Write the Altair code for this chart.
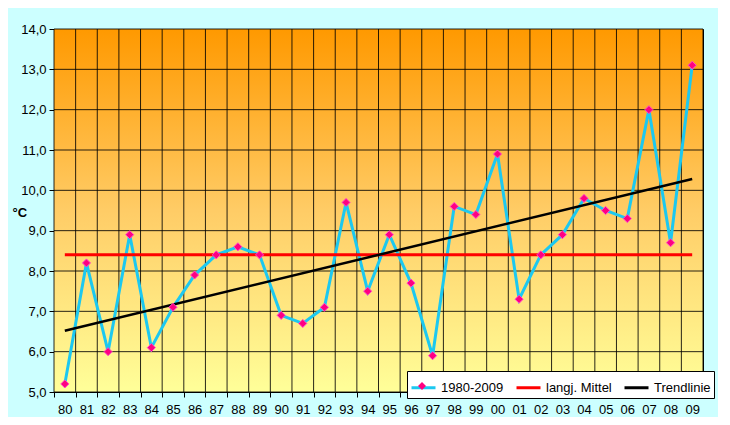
import altair as alt
import pandas as pd

years = ["80","81","82","83","84","85","86","87","88","89",
         "90","91","92","93","94","95","96","97","98","99",
         "00","01","02","03","04","05","06","07","08","09"]
temps = [5.2, 8.2, 6.0, 8.9, 6.1, 7.1, 7.9, 8.4, 8.6, 8.4,
         6.9, 6.7, 7.1, 9.7, 7.5, 8.9, 7.7, 5.9, 9.6, 9.4,
         10.9, 7.3, 8.4, 8.9, 9.8, 9.5, 9.3, 12.0, 8.7, 13.1]
mean_value = 8.4
trend_start = 6.52
trend_end = 10.28
series_names = ["1980-2009", "langj. Mittel", "Trendlinie"]
series_colors = ["#1CC8F0", "#FF0000", "#000000"]
y_ticks = [5, 6, 7, 8, 9, 10, 11, 12, 13, 14]

W, H = 649, 363
FONT = "Liberation Sans"

idx = list(range(len(years)))
x_bounds = [i - 0.5 for i in range(len(years) + 1)]
main_df = pd.DataFrame({"i": idx, "t": temps, "series": series_names[0]})
mean_df = pd.DataFrame({"i": [0, len(years) - 1], "t": [mean_value, mean_value],
                        "series": series_names[1]})
trend_df = pd.DataFrame({"i": [0, len(years) - 1], "t": [trend_start, trend_end],
                         "series": series_names[2]})
xgrid_df = pd.DataFrame({"i": x_bounds})
ygrid_df = pd.DataFrame({"t": y_ticks})

year_list = "[" + ",".join("'" + y + "'" for y in years) + "]"

xenc = alt.X("i:Q",
             scale=alt.Scale(domain=[-0.5, len(years) - 0.5], nice=False, zero=False),
             axis=alt.Axis(values=x_bounds, title=None, grid=False,
                           tickColor="#000000", tickSize=5,
                           domain=False, labelOffset=W / len(years) / 2, labelPadding=6,
                           labelExpr=year_list + "[datum.value + 0.5] || ''",
                           labelFont=FONT, labelFontSize=13, labelColor="#000000",
                           labelFlush=False, labelOverlap=False))
yenc = alt.Y("t:Q",
             scale=alt.Scale(domain=[5, 14], nice=False, zero=False),
             axis=alt.Axis(values=y_ticks, title="°C", titleAngle=0,
                           titleX=-42, titleY=183, titleAlign="left", titleBaseline="middle",
                           titleFont=FONT, titleFontSize=13, titleFontWeight="bold",
                           titleColor="#000000", grid=False,
                           tickColor="#000000", tickSize=5, domain=False,
                           labelExpr="replace(format(datum.value, '.1f'), '.', ',')",
                           labelFont=FONT, labelFontSize=13, labelColor="#000000",
                           labelPadding=3))

gradient = alt.LinearGradient(
    gradient="linear", x1=0, y1=0, x2=0, y2=1,
    stops=[alt.GradientStop(offset=0, color="#FF9900"),
           alt.GradientStop(offset=0.5, color="#FFCC66"),
           alt.GradientStop(offset=1, color="#FFFF99")])

bg = alt.Chart(pd.DataFrame({"a": [0]})).mark_rect(fill=gradient).encode(
    x=alt.value(0), x2=alt.value(W), y=alt.value(0), y2=alt.value(H))
xgrid = alt.Chart(xgrid_df).mark_rule(color="#000000", strokeWidth=1, opacity=0.85).encode(x=xenc)
ygrid = alt.Chart(ygrid_df).mark_rule(color="#000000", strokeWidth=1, opacity=0.85).encode(y=yenc)

color_scale = alt.Scale(domain=series_names, range=series_colors)
legend = alt.Legend(orient="none", legendX=353, legendY=342, title=None,
                    direction="horizontal", symbolType="stroke", symbolSize=576,
                    symbolStrokeWidth=3, labelFont=FONT, labelFontSize=13,
                    labelColor="#000000", fillColor="#FFFFFF", strokeColor="#000000",
                    padding=3, columnPadding=6, labelOffset=4, labelLimit=200)

main_line = alt.Chart(main_df).mark_line(strokeWidth=3).encode(
    x=xenc, y=yenc,
    color=alt.Color("series:N", scale=color_scale, legend=legend))
mean_line = alt.Chart(mean_df).mark_line(strokeWidth=3).encode(
    x=xenc, y=yenc, color=alt.Color("series:N", scale=color_scale, legend=legend))
trend_line = alt.Chart(trend_df).mark_line(strokeWidth=2.5).encode(
    x=xenc, y=yenc, color=alt.Color("series:N", scale=color_scale, legend=legend))
points = alt.Chart(main_df).mark_point(shape="diamond", filled=True, size=65,
                                        color="#FF0080", stroke="#FF44CC",
                                        strokeWidth=1, opacity=1).encode(
    x=xenc, y=yenc,
    shape=alt.Shape("series:N",
                    scale=alt.Scale(domain=[series_names[0]], range=["diamond"]),
                    legend=alt.Legend(orient="none", legendX=363, legendY=352, title=None,
                                      labelExpr="''", symbolSize=65,
                                      symbolFillColor="#FF0080",
                                      symbolStrokeColor="#FF44CC",
                                      symbolStrokeWidth=1, padding=0)))

chart = alt.layer(bg, xgrid, ygrid, main_line, mean_line, trend_line, points).properties(
    width=W, height=H,
    autosize=alt.AutoSizeParams(type="none"),
    padding={"left": 46, "top": 21, "right": 15, "bottom": 25},
    background="#CCFFFF",
).configure_view(
    stroke="#000000", strokeWidth=1
)

chart.save("out.html", embed_options={"renderer": "svg", "actions": False})
